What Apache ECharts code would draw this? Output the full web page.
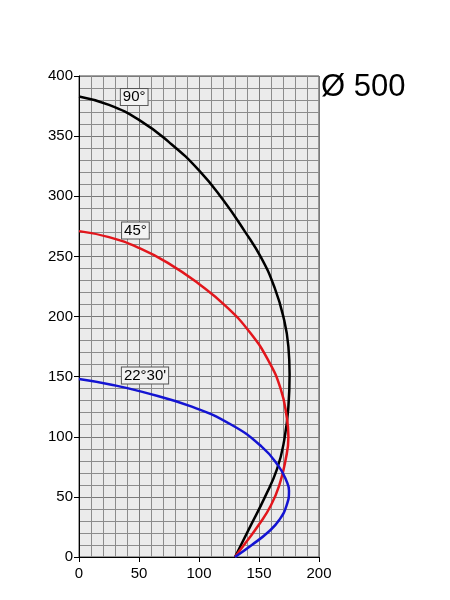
<!DOCTYPE html>
<html>
<head>
<meta charset="utf-8">
<script src="https://cdn.jsdelivr.net/npm/echarts@6/dist/echarts.min.js"></script>
<style>html,body{margin:0;padding:0;background:#fff}#c{width:450px;height:600px}</style>
</head>
<body>
<div id="c"></div>
<script>
// Curve data: [x, y]
var curve90 = [[0,383],[25,376],[50,363.5],[75,345],[100,321.5],[120,297],[138,271],[152,248.5],[163,224],[170.5,199],[174.5,175],[175.5,152],[174.5,125],[171,97],[165,73],[155,50],[142,24],[130,0]];
var curve45 = [[0,271],[25,266],[50,257],[75,244],[100,227],[123,208],[143,186],[158,163],[168,140],[173,117],[174.5,100],[172,80],[167,60],[160,43],[150,27],[139,12],[130,0]];
var curve2230 = [[0,148],[26,143.5],[52,137.5],[94,125],[127,110],[152,92],[166,76],[173,63],[175,55],[173,43],[167,31],[158,21],[144,10],[130,0]];
var seriesNames = ['90°', '45°', "22°30'"];
var labelAnchors = [[46,382.5],[47,271.5],[55,151]];
var xTicks = [0, 50, 100, 150, 200];
var yTicks = [0, 50, 100, 150, 200, 250, 300, 350, 400];
var title = 'Ø 500';

var colors = ['#000000', '#e2161c', '#1414d2'];
var curves = [curve90, curve45, curve2230];
var font = 'Liberation Sans, Arial, Helvetica, sans-serif';

var chart = echarts.init(document.getElementById('c'), null, {renderer: 'canvas'});
var series = curves.map(function (c, i) {
  return {
    type: 'line', name: seriesNames[i], data: c, smooth: 0.5, symbol: 'none',
    lineStyle: {color: colors[i], width: 2.5}, z: 3,
    markPoint: {
      symbol: 'rect', symbolSize: 1, itemStyle: {color: 'rgba(0,0,0,0)'},
      data: [{coord: labelAnchors[i], value: seriesNames[i]}],
      label: {
        show: true, position: 'inside', formatter: seriesNames[i],
        color: '#000', fontSize: 15, fontFamily: font,
        backgroundColor: '#f2f2f2', borderColor: '#555', borderWidth: 1,
        padding: [1, 2, 0, 2]
      }
    }
  };
});

chart.setOption({
  animation: false,
  grid: {left: 79, top: 76, right: 131, bottom: 43, show: true,
         backgroundColor: '#ebebeb', borderColor: '#444', borderWidth: 1},
  xAxis: {
    type: 'value', min: xTicks[0], max: xTicks[xTicks.length - 1], interval: 50,
    axisLine: {show: true, onZero: false, lineStyle: {color: '#000', width: 1}},
    axisTick: {show: true, length: 5, lineStyle: {color: '#000'}},
    axisLabel: {color: '#000', fontSize: 15, fontFamily: font, margin: 9},
    splitLine: {show: true, lineStyle: {color: '#7a7a7a', width: 1}},
    minorTick: {show: false, splitNumber: 5},
    minorSplitLine: {show: true, lineStyle: {color: '#8c8c8c', width: 1}}
  },
  yAxis: {
    type: 'value', min: yTicks[0], max: yTicks[yTicks.length - 1], interval: 50,
    axisLine: {show: true, onZero: false, lineStyle: {color: '#000', width: 1}},
    axisTick: {show: true, length: 5, lineStyle: {color: '#000'}},
    axisLabel: {color: '#000', fontSize: 15, fontFamily: font, margin: 6},
    splitLine: {show: true, lineStyle: {color: '#7a7a7a', width: 1}},
    minorTick: {show: false, splitNumber: 5},
    minorSplitLine: {show: true, lineStyle: {color: '#8c8c8c', width: 1}}
  },
  graphic: [{
    type: 'text', left: 321, top: 72,
    style: {text: title, fill: '#000', font: '31px ' + font}
  }],
  series: series
});
</script>
</body>
</html>
